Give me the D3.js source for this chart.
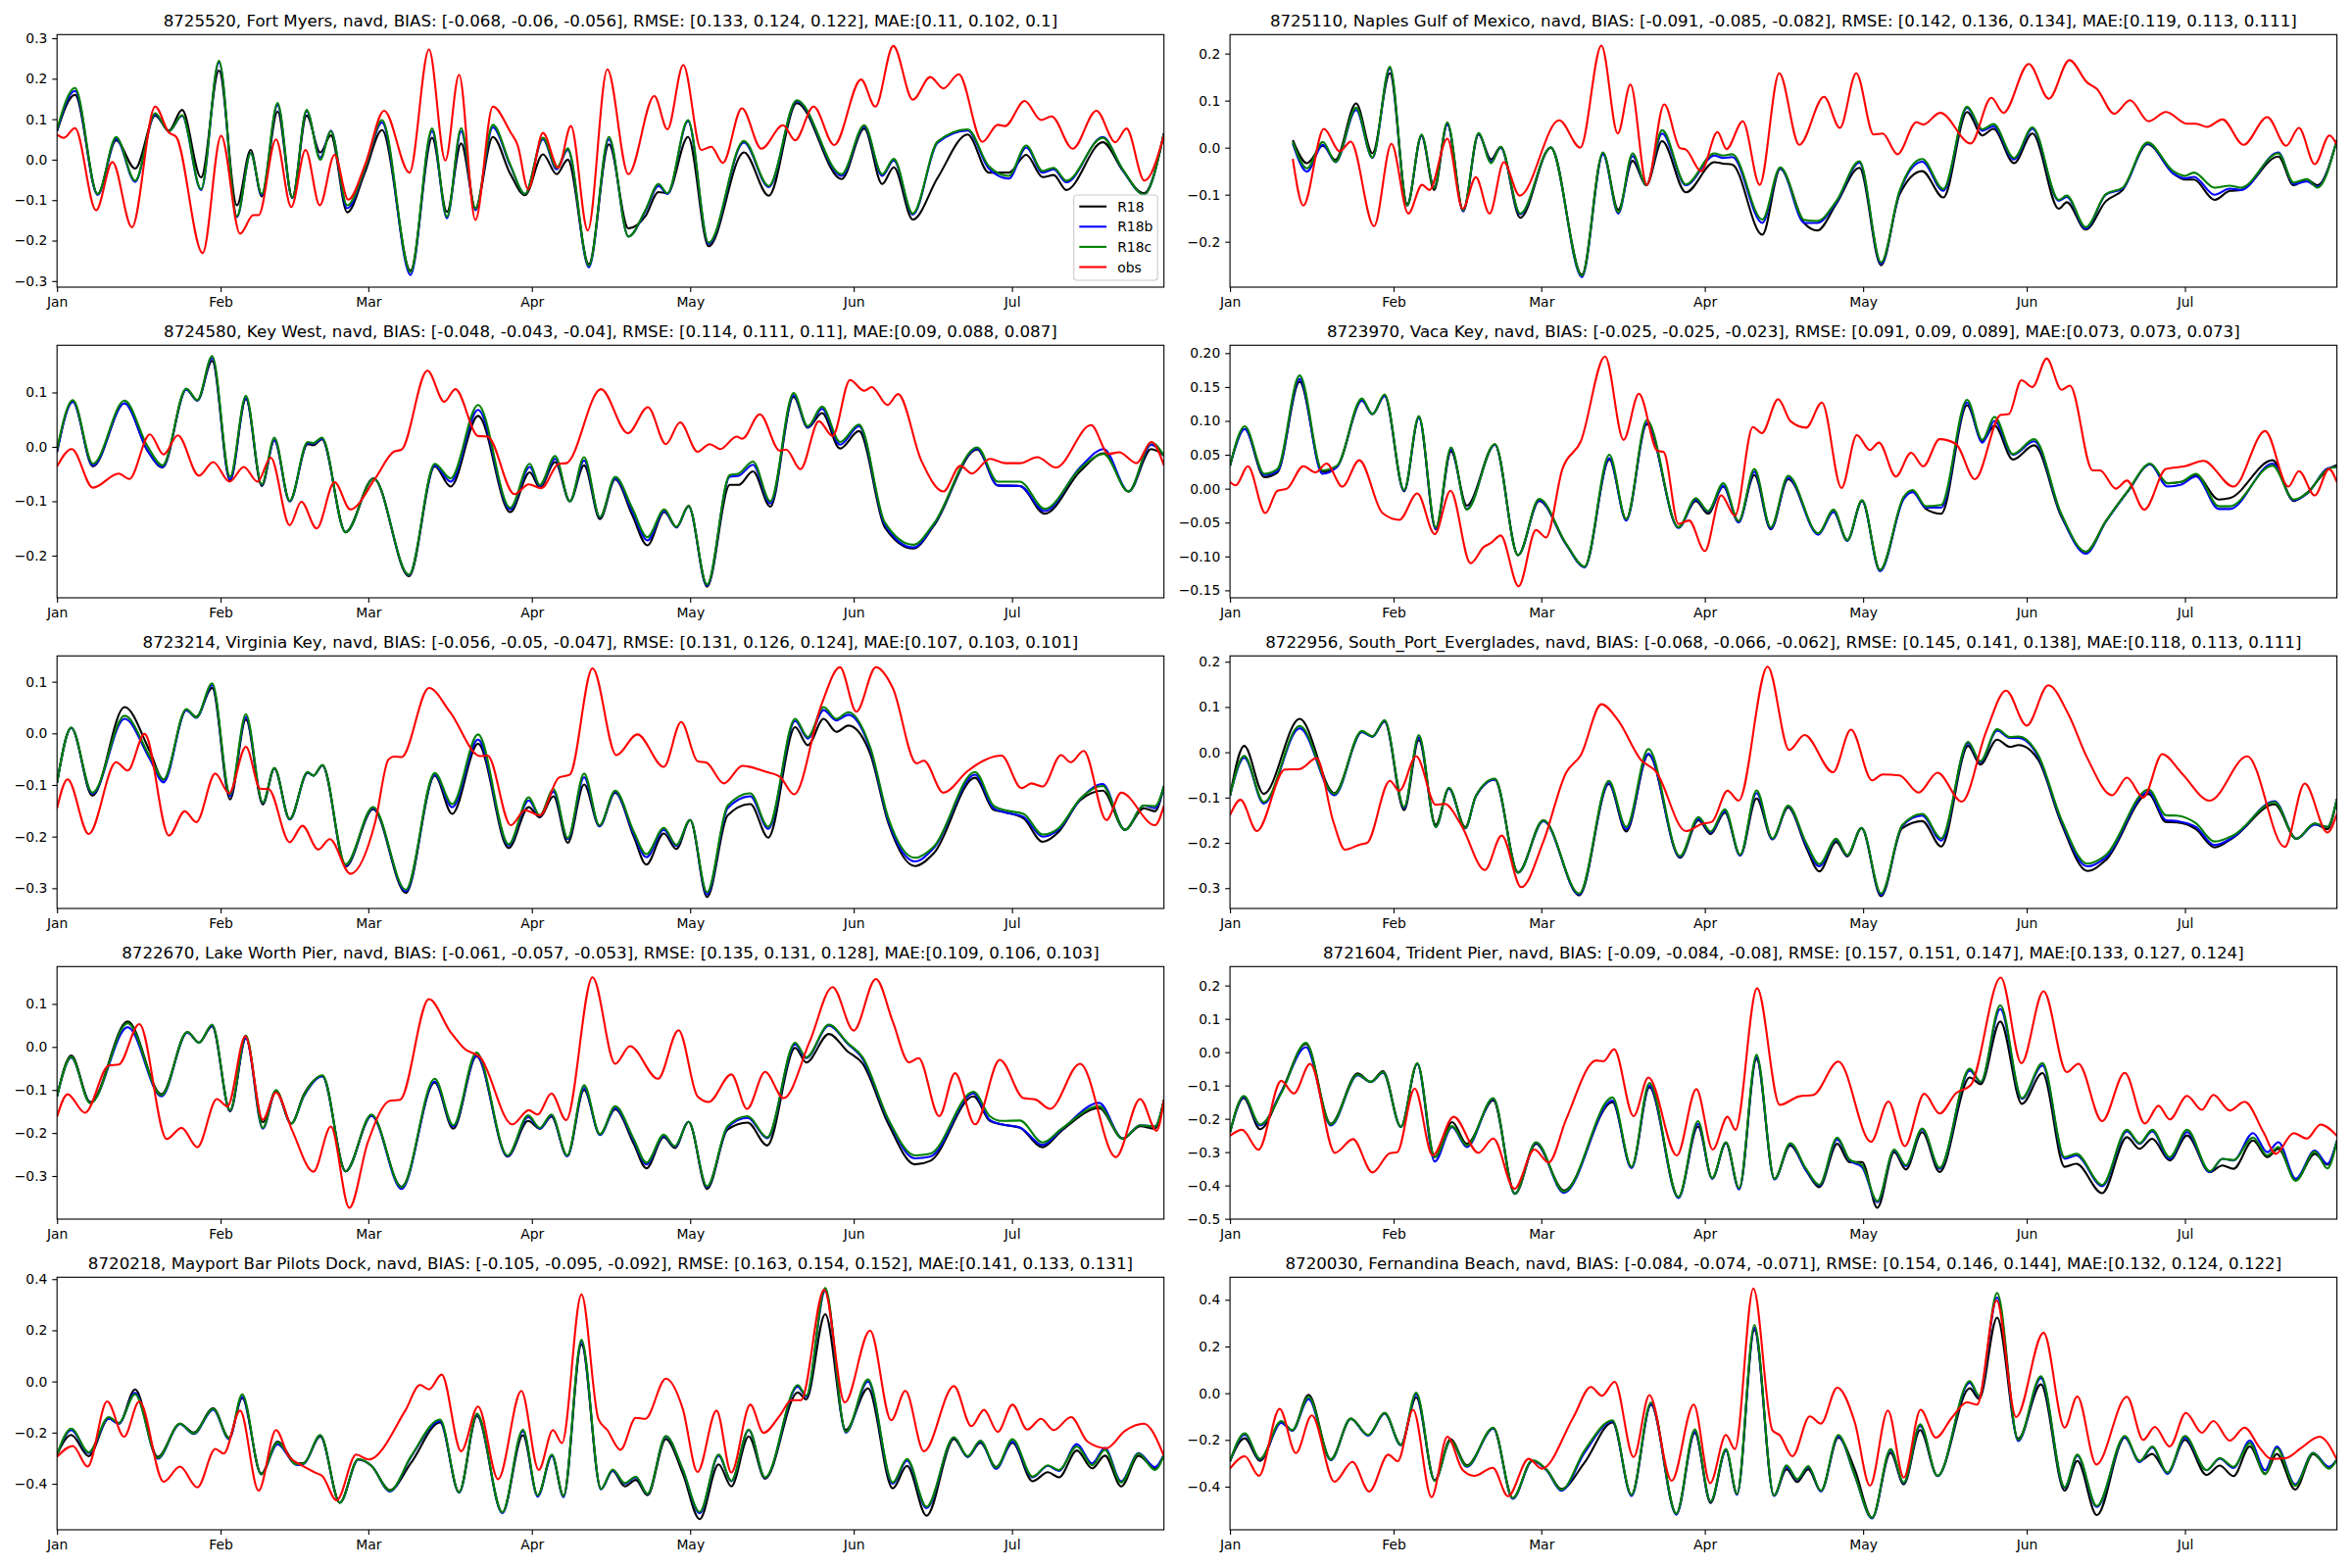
<!DOCTYPE html>
<html><head><meta charset="utf-8">
<script src="https://cdn.jsdelivr.net/npm/d3@7"></script>
<style>html,body{margin:0;padding:0;background:#fff}</style>
</head><body><div id="chart"></div>
<script>
// ---------------- DATA (day offsets from 2018-01-01, water level in m) ----------------
const monthLabels = ["Jan","Feb","Mar","Apr","May","Jun","Jul"];
const seriesNames = ["R18","R18b","R18c","obs"];
const titles = [
"8725520, Fort Myers, navd, BIAS: [-0.068, -0.06, -0.056], RMSE: [0.133, 0.124, 0.122], MAE:[0.11, 0.102, 0.1]",
"8725110, Naples Gulf of Mexico, navd, BIAS: [-0.091, -0.085, -0.082], RMSE: [0.142, 0.136, 0.134], MAE:[0.119, 0.113, 0.111]",
"8724580, Key West, navd, BIAS: [-0.048, -0.043, -0.04], RMSE: [0.114, 0.111, 0.11], MAE:[0.09, 0.088, 0.087]",
"8723970, Vaca Key, navd, BIAS: [-0.025, -0.025, -0.023], RMSE: [0.091, 0.09, 0.089], MAE:[0.073, 0.073, 0.073]",
"8723214, Virginia Key, navd, BIAS: [-0.056, -0.05, -0.047], RMSE: [0.131, 0.126, 0.124], MAE:[0.107, 0.103, 0.101]",
"8722956, South_Port_Everglades, navd, BIAS: [-0.068, -0.066, -0.062], RMSE: [0.145, 0.141, 0.138], MAE:[0.118, 0.113, 0.111]",
"8722670, Lake Worth Pier, navd, BIAS: [-0.061, -0.057, -0.053], RMSE: [0.135, 0.131, 0.128], MAE:[0.109, 0.106, 0.103]",
"8721604, Trident Pier, navd, BIAS: [-0.09, -0.084, -0.08], RMSE: [0.157, 0.151, 0.147], MAE:[0.133, 0.127, 0.124]",
"8720218, Mayport Bar Pilots Dock, navd, BIAS: [-0.105, -0.095, -0.092], RMSE: [0.163, 0.154, 0.152], MAE:[0.141, 0.133, 0.131]",
"8720030, Fernandina Beach, navd, BIAS: [-0.084, -0.074, -0.071], RMSE: [0.154, 0.146, 0.144], MAE:[0.132, 0.124, 0.122]"
];
const yLimits = [[-0.315,0.309],[-0.2965,0.2403],[-0.2775,0.1868],[-0.161,0.2116],[-0.3392,0.15],
                 [-0.3449,0.2128],[-0.4002,0.1868],[-0.501,0.2569],[-0.5798,0.4074],[-0.5846,0.4965]];
const yTickValues = [
 [-0.3,-0.2,-0.1,0.0,0.1,0.2,0.3],
 [-0.2,-0.1,0.0,0.1,0.2],
 [-0.2,-0.1,0.0,0.1],
 [-0.15,-0.10,-0.05,0.00,0.05,0.10,0.15,0.20],
 [-0.3,-0.2,-0.1,0.0,0.1],
 [-0.3,-0.2,-0.1,0.0,0.1,0.2],
 [-0.3,-0.2,-0.1,0.0,0.1],
 [-0.5,-0.4,-0.3,-0.2,-0.1,0.0,0.1,0.2],
 [-0.4,-0.2,0.0,0.2,0.4],
 [-0.4,-0.2,0.0,0.2,0.4]
];
const yTickFormats = [".1f",".1f",".1f",".2f",".1f",".1f",".1f",".1f",".1f",".1f"];

// 1 Fort Myers
const fm_t = [0,3.4,7.7,11.2,14.8,18.6,21.2,23.7,27.3,30.7,34.1,36.7,38.8,41.8,44.6,47.3,49.9,51.9,55.0,58.4,61.6,67.0,71.1,73.9,76.6,79.3,82.6,85.9,88.7,92.1,94.7,96.8,100.8,104.6,108.3,111.5,114.0,115.7,119.6,123.5,130.2,134.9,140.2,148.7,153.0,156.4,158.6,162.2,166.9,172.6,176.6,180.4,183.7,186.8,188.9,191.3,198.2,202.0,206.0,209.8];
const fm_R18c = [0.075,0.177,-0.085,0.056,-0.052,0.115,0.07,0.11,-0.073,0.244,-0.14,0.016,-0.085,0.14,-0.094,0.123,0.0,0.07,-0.113,-0.02,0.098,-0.278,0.077,-0.141,0.078,-0.121,0.086,-0.012,-0.085,0.054,-0.02,0.028,-0.262,0.056,-0.19,-0.125,-0.06,-0.083,0.098,-0.205,0.046,-0.065,0.147,-0.036,0.085,-0.036,0.002,-0.133,0.045,0.075,-0.016,-0.04,0.035,-0.028,-0.02,-0.052,0.054,-0.024,-0.086,0.065];
const fm_R18b = [0.072,0.17,-0.087,0.052,-0.055,0.112,0.07,0.108,-0.075,0.24,-0.142,0.016,-0.088,0.135,-0.095,0.12,0.005,0.072,-0.12,-0.022,0.092,-0.285,0.07,-0.145,0.07,-0.125,0.08,-0.015,-0.085,0.05,-0.024,0.024,-0.266,0.05,-0.19,-0.128,-0.065,-0.085,0.095,-0.208,0.042,-0.068,0.145,-0.04,0.082,-0.04,-0.002,-0.136,0.042,0.072,-0.022,-0.047,0.03,-0.032,-0.024,-0.056,0.056,-0.026,-0.086,0.065];
const fm_R18 = [0.07,0.16,-0.085,0.048,-0.022,0.109,0.072,0.123,-0.044,0.22,-0.113,0.024,-0.091,0.119,-0.094,0.109,0.018,0.06,-0.13,-0.03,0.073,-0.274,0.054,-0.129,0.04,-0.12,0.056,-0.035,-0.088,0.013,-0.036,0.0,-0.258,0.038,-0.17,-0.14,-0.08,-0.083,0.056,-0.214,0.018,-0.089,0.14,-0.048,0.077,-0.06,-0.019,-0.148,-0.045,0.062,-0.032,-0.032,0.012,-0.043,-0.038,-0.075,0.043,-0.027,-0.083,0.065];
const fm_obsT = [0,1.3,3.4,7.4,10.5,14.2,18.6,21.2,22.6,27.6,31.1,34.7,37.2,38.2,41.5,44.4,47.1,49.8,52.6,55.2,58.4,62.0,66.8,70.5,73.6,76.2,79.3,82.6,85.9,87.3,89.3,92.1,95.0,97.4,100.6,104.3,108.3,113.2,115.7,118.7,122.1,124.0,126.2,129.8,133.5,137.6,139.9,143.4,147.3,152.4,155.1,158.5,162.2,165.5,168.0,170.9,175.4,178.3,179.7,183.4,186.5,188.5,192.5,197.0,200.6,202.7,206.1,209.8];
const fm_obs = [0.062,0.054,0.078,-0.125,-0.006,-0.167,0.131,0.067,0.056,-0.231,0.059,-0.183,-0.137,-0.137,0.05,-0.117,0.024,-0.113,0.012,-0.099,-0.012,0.121,-0.032,0.272,-0.002,0.21,-0.149,0.131,0.069,0.036,-0.073,0.066,-0.02,0.083,-0.175,0.223,-0.036,0.157,0.075,0.234,0.024,0.032,-0.008,0.127,0.027,0.085,0.048,0.131,0.036,0.198,0.131,0.281,0.148,0.204,0.176,0.211,0.044,0.086,0.083,0.145,0.098,0.107,0.027,0.121,0.043,0.077,-0.052,0.06];

// 2 Naples
const np_t = [11.9,14.6,17.6,20.0,23.9,27.0,30.3,33.6,36.3,38.7,41.2,44.2,47.1,49.5,51.3,55.0,60.8,66.7,70.7,73.6,76.3,78.9,81.9,86.4,91.8,93.5,95.2,100.9,104.3,108.9,111.3,114.9,119.3,123.4,126.9,131.2,135.2,139.7,142.6,144.7,148.6,152.1,157.1,158.6,162.2,166.0,169.2,173.9,178.8,181.0,182.7,186.6,189.5,191.6,198.7,201.6,204.1,206.1,209.8];
const np_R18c = [0.012,-0.044,0.012,-0.03,0.085,-0.021,0.172,-0.123,0.028,-0.085,0.054,-0.133,0.031,-0.033,0.002,-0.14,0.0,-0.272,-0.01,-0.137,-0.012,-0.08,0.037,-0.078,-0.012,-0.017,-0.014,-0.153,-0.042,-0.154,-0.156,-0.114,-0.029,-0.244,-0.092,-0.024,-0.088,0.087,0.039,0.05,-0.022,0.043,-0.111,-0.102,-0.169,-0.099,-0.085,0.011,-0.05,-0.06,-0.053,-0.085,-0.081,-0.085,-0.012,-0.074,-0.067,-0.085,0.016];
const np_R18b = [0.009,-0.051,0.006,-0.031,0.08,-0.022,0.168,-0.123,0.026,-0.083,0.05,-0.135,0.029,-0.03,0.0,-0.142,0.0,-0.275,-0.014,-0.14,-0.018,-0.08,0.03,-0.08,-0.017,-0.022,-0.02,-0.16,-0.044,-0.16,-0.16,-0.117,-0.032,-0.247,-0.095,-0.03,-0.092,0.085,0.036,0.045,-0.025,0.04,-0.113,-0.105,-0.172,-0.1,-0.087,0.009,-0.055,-0.065,-0.062,-0.1,-0.087,-0.09,-0.01,-0.077,-0.072,-0.083,0.016];
const np_R18 = [0.016,-0.033,0.004,-0.026,0.094,-0.012,0.158,-0.12,0.025,-0.09,0.05,-0.135,0.028,-0.025,0.002,-0.149,0.0,-0.27,-0.012,-0.132,-0.028,-0.08,0.014,-0.095,-0.031,-0.034,-0.036,-0.185,-0.045,-0.161,-0.176,-0.12,-0.043,-0.25,-0.1,-0.05,-0.106,0.076,0.026,0.04,-0.033,0.03,-0.13,-0.116,-0.174,-0.114,-0.09,0.007,-0.055,-0.068,-0.068,-0.111,-0.092,-0.09,-0.019,-0.08,-0.068,-0.08,0.016];
const np_obsT = [11.9,13.9,17.8,20.8,22.9,27.3,30.6,33.8,36.4,37.8,41.2,44.1,46.6,49.2,51.9,54.9,62.4,66.4,70.4,73.5,75.9,79.0,82.3,85.3,86.4,89.3,92.4,94.1,97.2,100.4,104.1,107.9,112.6,115.6,118.7,122.0,123.7,126.5,130.1,131.4,134.6,140.4,144.3,146.6,151.4,155.2,159.1,162.5,164.3,167.6,170.6,174.1,177.4,181.4,183.1,185.2,188.1,192.1,196.6,200.2,202.6,205.6,208.4,209.8];
const np_obs = [-0.024,-0.123,0.04,-0.008,0.013,-0.167,0.008,-0.14,-0.079,-0.09,0.019,-0.13,-0.063,-0.14,-0.031,-0.102,0.058,0.0,0.217,0.03,0.134,-0.079,0.092,-0.001,-0.004,-0.05,0.033,-0.003,0.056,-0.079,0.158,0.006,0.108,0.042,0.158,0.028,0.03,-0.014,0.054,0.049,0.074,0.009,0.106,0.074,0.178,0.104,0.186,0.138,0.125,0.072,0.101,0.056,0.076,0.051,0.051,0.044,0.06,0.006,0.065,0.004,0.042,-0.035,0.026,0.006];

// 3 Key West
const kw_t = [0,3.0,6.8,12.8,17.1,20.0,24.5,26.6,29.4,32.8,35.8,38.8,41.2,44.1,47.5,48.6,50.2,54.7,60.0,66.7,71.6,74.6,79.8,85.9,89.6,91.5,94.4,97.2,99.9,102.9,105.8,109.0,111.9,115.1,117.4,119.7,123.2,127.5,129.2,131.9,135.2,139.6,142.3,145.0,148.4,152.0,156.9,162.3,166.2,174.4,178.3,182.5,187.2,193.9,198.4,203.1,207.4,209.8];
const kw_R18c = [-0.004,0.086,-0.031,0.085,0.002,-0.034,0.107,0.086,0.167,-0.055,0.094,-0.069,0.017,-0.099,0.009,0.007,0.017,-0.157,-0.058,-0.235,-0.031,-0.058,0.077,-0.112,-0.031,-0.07,-0.017,-0.1,-0.019,-0.129,-0.055,-0.112,-0.166,-0.115,-0.147,-0.109,-0.253,-0.052,-0.049,-0.027,-0.1,0.099,0.038,0.074,0.009,0.041,-0.139,-0.18,-0.141,-0.001,-0.064,-0.064,-0.114,-0.04,-0.013,-0.082,0.008,-0.016];
const kw_R18b = [-0.008,0.083,-0.034,0.08,-0.006,-0.037,0.105,0.085,0.163,-0.06,0.09,-0.07,0.012,-0.1,0.007,0.006,0.015,-0.157,-0.058,-0.236,-0.034,-0.064,0.068,-0.115,-0.037,-0.072,-0.022,-0.1,-0.025,-0.13,-0.058,-0.118,-0.172,-0.118,-0.148,-0.11,-0.255,-0.055,-0.053,-0.033,-0.104,0.095,0.036,0.07,0.004,0.038,-0.143,-0.185,-0.143,-0.003,-0.071,-0.072,-0.118,-0.038,-0.004,-0.082,0.004,-0.016];
const kw_R18 = [-0.01,0.083,-0.036,0.08,-0.006,-0.038,0.106,0.085,0.158,-0.062,0.088,-0.072,0.012,-0.1,0.005,0.003,0.014,-0.157,-0.058,-0.238,-0.036,-0.073,0.057,-0.12,-0.047,-0.075,-0.028,-0.1,-0.034,-0.133,-0.06,-0.125,-0.181,-0.12,-0.148,-0.108,-0.257,-0.07,-0.07,-0.045,-0.11,0.092,0.035,0.062,-0.003,0.029,-0.148,-0.187,-0.145,-0.005,-0.071,-0.072,-0.123,-0.045,-0.012,-0.082,-0.004,-0.016];
const kw_obsT = [0,2.8,6.8,11.7,13.7,17.6,20.2,22.9,26.9,29.6,32.7,35.4,38.0,40.5,44.1,46.3,49.2,52.6,55.6,60.3,63.8,65.3,70.2,73.4,75.5,79.8,81.6,86.7,89.4,91.8,95.1,96.5,103.1,108.2,112.0,115.4,118.1,121.4,123.7,125.7,128.8,129.9,133.2,137.0,138.2,140.9,144.4,147.0,150.3,153.0,154.4,157.4,159.4,163.8,168.0,171.2,173.4,176.8,179.7,182.5,185.8,189.3,196.0,199.3,201.3,204.6,207.4,209.8];
const kw_obs = [-0.036,-0.004,-0.075,-0.049,-0.059,0.023,-0.014,0.021,-0.053,-0.028,-0.064,-0.037,-0.064,-0.02,-0.144,-0.101,-0.15,-0.065,-0.115,-0.058,-0.009,-0.005,0.14,0.083,0.106,0.02,0.019,-0.087,-0.069,-0.076,-0.031,-0.03,0.106,0.025,0.073,0.005,0.045,-0.009,0.005,-0.004,0.019,0.015,0.06,-0.007,-0.005,-0.041,0.047,0.02,0.123,0.103,0.11,0.077,0.097,-0.025,-0.082,-0.035,-0.049,-0.022,-0.03,-0.03,-0.019,-0.038,0.04,-0.013,-0.01,-0.03,0.009,-0.034];

// 4 Vaca Key
const vk_t = [0,2.8,6.5,9.0,13.2,17.5,20.3,25.0,27.0,29.3,33.0,35.8,39.0,41.9,44.9,50.2,54.6,58.6,63.7,67.2,71.9,75.1,79.0,85.0,88.3,90.6,93.5,96.4,99.4,102.5,105.8,111.5,114.4,117.0,119.8,123.2,127.7,129.4,131.9,134.8,139.7,142.6,144.9,148.4,152.4,157.5,162.2,166.0,170.3,174.4,177.7,180.3,183.1,187.4,189.5,197.6,201.6,204.4,208.0,209.8];
const vk_R18c = [0.034,0.092,0.022,0.029,0.167,0.027,0.034,0.133,0.11,0.139,-0.002,0.107,-0.057,0.061,-0.031,0.066,-0.098,-0.015,-0.081,-0.115,0.05,-0.045,0.101,-0.057,-0.014,-0.033,0.008,-0.048,0.029,-0.057,0.019,-0.066,-0.031,-0.076,-0.017,-0.12,-0.012,-0.002,-0.026,-0.024,0.131,0.072,0.106,0.051,0.073,-0.036,-0.093,-0.048,-0.002,0.037,0.008,0.01,0.022,-0.026,-0.026,0.034,-0.016,-0.005,0.029,0.032];
const vk_R18b = [0.034,0.088,0.02,0.026,0.162,0.022,0.032,0.13,0.11,0.137,-0.003,0.105,-0.059,0.058,-0.03,0.065,-0.098,-0.017,-0.082,-0.116,0.045,-0.047,0.097,-0.058,-0.016,-0.034,0.004,-0.05,0.025,-0.059,0.016,-0.068,-0.034,-0.077,-0.018,-0.122,-0.015,-0.005,-0.028,-0.028,0.127,0.068,0.1,0.05,0.07,-0.038,-0.096,-0.049,-0.003,0.036,0.003,0.006,0.018,-0.03,-0.03,0.037,-0.017,-0.006,0.03,0.032];
const vk_R18 = [0.034,0.088,0.017,0.024,0.158,0.025,0.033,0.13,0.11,0.137,-0.004,0.105,-0.06,0.055,-0.025,0.065,-0.098,-0.018,-0.082,-0.115,0.043,-0.045,0.095,-0.057,-0.018,-0.037,0.003,-0.048,0.02,-0.06,0.014,-0.066,-0.034,-0.076,-0.018,-0.12,-0.014,-0.004,-0.03,-0.037,0.123,0.07,0.093,0.043,0.064,-0.04,-0.093,-0.048,-0.002,0.036,0.008,0.01,0.02,-0.016,-0.014,0.042,-0.018,-0.004,0.028,0.035];
const vk_obsT = [0,1.1,3.4,6.7,9.0,10.8,13.9,16.2,18.3,21.3,24.5,28.9,32.1,35.5,38.8,41.8,45.6,48.1,49.5,51.3,54.7,58.0,59.9,63.0,66.5,71.1,74.6,77.5,81.0,82.2,85.0,87.0,90.0,93.1,95.7,99.1,100.8,103.9,106.3,109.2,112.2,115.9,118.8,121.3,123.0,126.2,129.1,131.4,134.5,137.6,141.2,146.1,147.6,150.0,152.1,154.8,157.6,159.2,163.5,164.9,167.9,170.0,173.3,177.4,181.0,184.5,190.2,196.2,200.6,202.6,205.6,208.3,209.8];
const vk_obs = [0.01,0.005,0.033,-0.036,-0.003,0.0,0.033,0.024,0.037,0.003,0.042,-0.036,-0.046,-0.007,-0.067,-0.003,-0.11,-0.086,-0.08,-0.069,-0.144,-0.061,-0.072,0.029,0.07,0.195,0.072,0.14,0.056,0.054,-0.052,-0.047,-0.092,-0.01,-0.04,0.091,0.082,0.132,0.099,0.09,0.127,0.001,0.079,0.057,0.068,0.018,0.053,0.033,0.073,0.066,0.014,0.109,0.11,0.16,0.15,0.192,0.146,0.152,0.027,0.027,0.0,0.012,-0.031,0.029,0.033,0.041,0.003,0.085,0.003,0.026,-0.01,0.029,0.01];

// 5 Virginia Key
const vg_t = [0,2.7,6.7,12.8,17.6,20.2,24.5,26.4,29.4,32.8,35.8,39.0,41.2,44.1,47.5,48.6,50.3,54.7,59.9,66.1,71.6,74.9,79.8,85.6,89.4,91.5,94.1,96.8,99.9,102.8,105.8,109.3,111.7,115.0,117.4,120.0,123.2,127.1,131.4,134.8,139.9,142.3,145.3,147.7,150.0,154.1,157.6,162.6,166.2,174.0,177.5,179.7,183.2,186.8,189.9,193.9,198.2,202.4,206.0,208.1,209.8];
const vg_R18c = [-0.096,0.011,-0.115,0.034,-0.045,-0.089,0.047,0.031,0.097,-0.118,0.037,-0.134,-0.067,-0.166,-0.075,-0.082,-0.061,-0.254,-0.143,-0.303,-0.077,-0.137,-0.002,-0.215,-0.124,-0.159,-0.108,-0.203,-0.078,-0.178,-0.111,-0.19,-0.234,-0.183,-0.216,-0.168,-0.308,-0.14,-0.116,-0.181,0.028,-0.007,0.051,0.028,0.041,-0.026,-0.165,-0.241,-0.219,-0.075,-0.14,-0.149,-0.156,-0.196,-0.183,-0.127,-0.102,-0.187,-0.14,-0.141,-0.102];
const vg_R18b = [-0.096,0.01,-0.117,0.028,-0.05,-0.095,0.045,0.03,0.093,-0.122,0.032,-0.135,-0.068,-0.167,-0.076,-0.082,-0.062,-0.256,-0.145,-0.306,-0.08,-0.143,-0.012,-0.217,-0.13,-0.16,-0.113,-0.205,-0.085,-0.18,-0.113,-0.195,-0.24,-0.187,-0.218,-0.168,-0.312,-0.145,-0.122,-0.185,0.024,-0.01,0.045,0.025,0.036,-0.03,-0.17,-0.248,-0.222,-0.08,-0.145,-0.153,-0.162,-0.2,-0.186,-0.128,-0.098,-0.187,-0.14,-0.145,-0.102];
const vg_R18 = [-0.096,0.011,-0.121,0.051,-0.035,-0.09,0.045,0.032,0.088,-0.128,0.027,-0.138,-0.068,-0.166,-0.076,-0.082,-0.062,-0.258,-0.147,-0.309,-0.082,-0.156,-0.02,-0.222,-0.143,-0.163,-0.122,-0.212,-0.099,-0.18,-0.115,-0.2,-0.254,-0.194,-0.224,-0.168,-0.317,-0.159,-0.137,-0.202,0.012,-0.023,0.028,0.003,0.015,-0.039,-0.175,-0.257,-0.232,-0.086,-0.148,-0.153,-0.165,-0.21,-0.19,-0.13,-0.111,-0.187,-0.145,-0.151,-0.102];
const vg_obsT = [0,2.0,6.0,11.2,13.4,16.6,21.2,24.2,26.4,30.0,32.6,35.8,38.5,40.1,44.1,46.5,49.5,51.7,55.6,60.3,62.8,63.8,65.3,70.5,74.5,80.2,81.6,86.0,88.7,91.5,95.1,97.2,101.5,106.0,110.0,115.0,118.3,121.4,123.1,126.4,129.9,134.2,137.0,139.7,144.9,148.4,151.5,155.2,158.4,162.9,164.3,168.0,172.6,175.4,179.0,182.8,184.7,186.8,190.3,192.1,194.6,198.9,201.7,208.1,209.8];
const vg_obs = [-0.145,-0.089,-0.195,-0.056,-0.072,-0.001,-0.198,-0.151,-0.172,-0.078,-0.116,-0.026,-0.107,-0.108,-0.211,-0.179,-0.225,-0.205,-0.272,-0.172,-0.051,-0.045,-0.046,0.088,0.041,-0.044,-0.043,-0.178,-0.149,-0.159,-0.086,-0.08,0.126,-0.042,-0.002,-0.065,0.022,-0.054,-0.057,-0.097,-0.063,-0.074,-0.084,-0.118,0.056,0.128,0.042,0.128,0.088,-0.058,-0.053,-0.115,-0.073,-0.054,-0.043,-0.106,-0.097,-0.103,-0.042,-0.056,-0.034,-0.168,-0.115,-0.178,-0.14];

// 6 South Port Everglades
const pe_t = [0,2.7,6.4,13.2,19.8,25.0,27.0,29.3,33.0,35.8,39.0,41.5,44.6,46.6,50.2,54.6,59.4,66.2,71.8,75.1,79.3,85.3,88.8,91.1,93.8,96.7,99.8,102.8,105.8,109.2,111.7,114.9,117.0,119.7,123.4,127.4,131.2,134.8,139.9,142.2,145.4,147.8,149.5,153.2,157.5,162.5,166.0,174.1,177.4,179.5,183.1,186.6,190.2,198.0,202.1,205.6,208.0,209.8];
const pe_R18c = [-0.096,-0.008,-0.11,0.058,-0.092,0.047,0.035,0.071,-0.121,0.038,-0.165,-0.078,-0.167,-0.096,-0.058,-0.266,-0.15,-0.312,-0.063,-0.165,0.007,-0.229,-0.143,-0.175,-0.126,-0.226,-0.084,-0.19,-0.118,-0.2,-0.247,-0.191,-0.227,-0.167,-0.312,-0.161,-0.136,-0.19,0.023,-0.02,0.051,0.034,0.035,-0.006,-0.146,-0.246,-0.227,-0.082,-0.139,-0.14,-0.157,-0.197,-0.183,-0.11,-0.191,-0.157,-0.165,-0.103];
const pe_R18b = [-0.096,-0.012,-0.113,0.053,-0.095,0.045,0.034,0.069,-0.123,0.033,-0.165,-0.08,-0.168,-0.097,-0.06,-0.266,-0.152,-0.314,-0.068,-0.17,-0.003,-0.231,-0.147,-0.177,-0.13,-0.228,-0.09,-0.192,-0.12,-0.205,-0.252,-0.193,-0.228,-0.167,-0.315,-0.163,-0.14,-0.195,0.02,-0.022,0.048,0.032,0.032,-0.01,-0.15,-0.252,-0.232,-0.087,-0.15,-0.152,-0.165,-0.205,-0.187,-0.108,-0.191,-0.16,-0.165,-0.103];
const pe_R18 = [-0.096,0.014,-0.092,0.074,-0.09,0.045,0.035,0.068,-0.128,0.027,-0.16,-0.08,-0.165,-0.097,-0.06,-0.265,-0.15,-0.316,-0.07,-0.175,-0.005,-0.233,-0.15,-0.181,-0.133,-0.228,-0.102,-0.192,-0.122,-0.21,-0.263,-0.198,-0.23,-0.168,-0.318,-0.168,-0.152,-0.208,0.014,-0.027,0.028,0.012,0.016,-0.017,-0.155,-0.262,-0.238,-0.092,-0.154,-0.155,-0.17,-0.21,-0.188,-0.115,-0.191,-0.158,-0.17,-0.103];
const pe_obsT = [0,2.0,5.1,10.4,13.2,16.4,19.6,21.8,24.6,26.0,30.3,32.1,35.3,39.0,40.7,43.8,48.3,51.5,55.2,59.4,63.7,66.5,70.4,73.6,77.9,80.7,86.4,89.3,91.4,94.3,96.4,101.9,106.0,108.9,114.3,117.7,121.7,123.7,126.9,130.5,134.1,138.7,143.3,147.1,151.0,155.1,158.9,162.5,167.2,170.0,173.1,176.7,180.3,185.7,192.8,199.9,203.7,208.0,209.8];
const pe_obs = [-0.139,-0.105,-0.174,-0.038,-0.037,-0.013,-0.154,-0.215,-0.204,-0.2,-0.063,-0.085,-0.009,-0.116,-0.114,-0.16,-0.26,-0.184,-0.298,-0.197,-0.045,-0.006,0.106,0.07,-0.017,-0.042,-0.174,-0.159,-0.153,-0.085,-0.107,0.189,0.005,0.038,-0.044,0.05,-0.062,-0.049,-0.051,-0.089,-0.045,-0.109,0.045,0.136,0.059,0.148,0.084,-0.013,-0.095,-0.056,-0.1,-0.004,-0.045,-0.107,-0.009,-0.209,-0.069,-0.177,-0.136];

// 7 Lake Worth Pier
const lw_t = [0,2.7,6.3,13.4,19.8,24.7,26.9,29.4,32.8,35.8,39.0,41.5,44.4,46.8,50.3,54.7,59.6,65.3,71.6,75.1,79.5,85.4,89.3,91.5,93.7,96.7,99.9,102.9,105.8,109.3,111.7,115.0,117.1,119.7,123.2,127.1,130.9,134.6,139.9,142.0,146.3,149.8,152.7,157.6,162.6,165.5,173.7,176.8,179.0,182.5,186.8,190.3,197.5,202.0,205.3,208.1,209.8];
const lw_R18c = [-0.115,-0.023,-0.131,0.055,-0.112,0.035,0.01,0.052,-0.147,0.027,-0.188,-0.1,-0.178,-0.112,-0.066,-0.289,-0.157,-0.326,-0.074,-0.182,-0.013,-0.252,-0.159,-0.188,-0.157,-0.252,-0.089,-0.203,-0.138,-0.214,-0.269,-0.204,-0.231,-0.174,-0.324,-0.184,-0.161,-0.21,0.01,-0.024,0.052,0.01,-0.024,-0.169,-0.252,-0.248,-0.104,-0.161,-0.172,-0.171,-0.222,-0.191,-0.138,-0.213,-0.182,-0.185,-0.123];
const lw_R18b = [-0.115,-0.025,-0.13,0.046,-0.115,0.033,0.01,0.05,-0.148,0.02,-0.19,-0.103,-0.178,-0.114,-0.068,-0.289,-0.16,-0.33,-0.08,-0.185,-0.02,-0.254,-0.163,-0.19,-0.16,-0.254,-0.095,-0.205,-0.142,-0.218,-0.273,-0.207,-0.232,-0.174,-0.326,-0.187,-0.165,-0.212,0.006,-0.026,0.05,0.008,-0.028,-0.172,-0.259,-0.255,-0.108,-0.17,-0.18,-0.187,-0.228,-0.193,-0.13,-0.213,-0.182,-0.185,-0.123];
const lw_R18 = [-0.115,-0.02,-0.128,0.059,-0.11,0.035,0.01,0.048,-0.15,0.02,-0.175,-0.102,-0.178,-0.11,-0.068,-0.289,-0.16,-0.325,-0.083,-0.19,-0.022,-0.255,-0.172,-0.19,-0.162,-0.254,-0.1,-0.203,-0.145,-0.225,-0.282,-0.21,-0.235,-0.174,-0.33,-0.192,-0.176,-0.229,-0.002,-0.036,0.03,-0.01,-0.039,-0.18,-0.273,-0.265,-0.115,-0.172,-0.18,-0.188,-0.233,-0.196,-0.142,-0.213,-0.184,-0.19,-0.123];
const lw_obsT = [0,2.0,5.3,9.8,11.7,15.6,20.8,23.6,26.6,30.3,32.3,35.7,39.0,41.5,44.6,48.6,51.9,55.4,58.9,63.1,65.0,70.5,74.5,77.3,80.2,86.3,89.4,91.1,93.7,96.5,101.5,105.8,108.6,113.9,117.8,121.4,123.5,127.8,130.8,134.2,137.7,142.7,147.0,151.0,155.2,158.4,161.5,163.3,167.2,170.2,174.0,178.7,183.2,185.4,188.2,193.9,200.7,205.3,208.4,209.8];
const lw_obs = [-0.162,-0.11,-0.153,-0.043,-0.041,0.053,-0.214,-0.188,-0.233,-0.121,-0.138,0.025,-0.169,-0.106,-0.195,-0.29,-0.185,-0.374,-0.222,-0.125,-0.123,0.111,0.036,-0.005,-0.024,-0.18,-0.147,-0.157,-0.108,-0.17,0.162,-0.039,0.002,-0.074,0.039,-0.115,-0.128,-0.064,-0.144,-0.058,-0.119,0.014,0.139,0.038,0.158,0.059,-0.036,-0.026,-0.161,-0.061,-0.18,-0.03,-0.119,-0.122,-0.144,-0.039,-0.256,-0.121,-0.195,-0.123];

// 8 Trident Pier
const tp_t = [0,2.6,5.7,9.7,14.4,19.1,24.2,26.7,29.0,32.4,35.5,38.8,42.1,44.9,49.9,54.0,58.0,63.3,72.5,76.1,79.5,85.0,88.7,91.4,94.0,96.5,99.8,103.2,106.2,109.2,111.7,115.1,117.4,119.8,122.7,125.9,128.1,131.2,134.5,140.2,142.3,146.0,150.1,154.0,158.2,160.4,165.3,170.0,172.4,174.8,178.1,181.4,185.7,188.1,190.2,193.9,196.6,198.7,202.0,205.6,208.0,209.8];
const tp_R18c = [-0.241,-0.131,-0.217,-0.124,0.028,-0.217,-0.067,-0.089,-0.06,-0.224,-0.033,-0.315,-0.222,-0.28,-0.138,-0.425,-0.27,-0.418,-0.136,-0.344,-0.092,-0.435,-0.207,-0.378,-0.27,-0.408,-0.008,-0.38,-0.273,-0.35,-0.398,-0.256,-0.322,-0.339,-0.447,-0.292,-0.339,-0.229,-0.347,-0.05,-0.089,0.141,-0.138,-0.033,-0.315,-0.305,-0.398,-0.233,-0.273,-0.233,-0.315,-0.233,-0.357,-0.32,-0.324,-0.256,-0.31,-0.285,-0.386,-0.298,-0.349,-0.266];
const tp_R18b = [-0.241,-0.135,-0.22,-0.12,0.015,-0.22,-0.069,-0.09,-0.062,-0.225,-0.035,-0.328,-0.225,-0.285,-0.14,-0.425,-0.272,-0.422,-0.145,-0.348,-0.1,-0.438,-0.215,-0.38,-0.272,-0.412,-0.015,-0.382,-0.276,-0.355,-0.4,-0.262,-0.325,-0.345,-0.45,-0.295,-0.342,-0.232,-0.35,-0.055,-0.09,0.13,-0.14,-0.04,-0.32,-0.31,-0.402,-0.238,-0.275,-0.238,-0.32,-0.24,-0.36,-0.32,-0.325,-0.243,-0.3,-0.27,-0.38,-0.295,-0.335,-0.266];
const tp_R18 = [-0.241,-0.138,-0.231,-0.12,0.025,-0.215,-0.064,-0.089,-0.057,-0.224,-0.035,-0.315,-0.21,-0.275,-0.145,-0.425,-0.275,-0.415,-0.15,-0.346,-0.105,-0.435,-0.223,-0.378,-0.273,-0.41,-0.021,-0.38,-0.28,-0.355,-0.405,-0.275,-0.33,-0.33,-0.467,-0.3,-0.352,-0.24,-0.36,-0.076,-0.096,0.092,-0.155,-0.063,-0.344,-0.335,-0.423,-0.255,-0.29,-0.26,-0.325,-0.25,-0.36,-0.34,-0.35,-0.265,-0.315,-0.29,-0.384,-0.305,-0.338,-0.266];
const tp_obsT = [0,2.3,5.4,9.7,12.1,15.2,19.9,23.3,27.0,30.3,31.7,35.0,38.4,42.4,47.1,49.9,53.9,57.7,60.4,63.7,69.4,70.8,72.8,76.5,79.3,84.7,88.4,91.5,94.3,95.8,99.9,104.2,107.8,110.6,115.3,121.5,124.8,127.9,131.6,134.5,137.6,140.4,146.1,150.0,154.2,158.6,160.8,165.3,169.6,173.4,176.0,178.1,181.4,184.2,186.4,189.5,192.3,195.9,198.2,201.6,204.1,206.7,209.8];
const tp_obs = [-0.251,-0.233,-0.293,-0.086,-0.124,-0.035,-0.302,-0.261,-0.361,-0.303,-0.3,-0.109,-0.31,-0.194,-0.302,-0.259,-0.41,-0.292,-0.331,-0.202,-0.025,-0.027,0.009,-0.192,-0.076,-0.31,-0.111,-0.292,-0.194,-0.233,0.192,-0.158,-0.133,-0.128,-0.028,-0.269,-0.148,-0.282,-0.125,-0.184,-0.123,-0.099,0.224,-0.033,0.183,-0.06,-0.035,-0.207,-0.062,-0.214,-0.161,-0.202,-0.131,-0.173,-0.128,-0.175,-0.149,-0.241,-0.305,-0.243,-0.259,-0.217,-0.251];

// 9 Mayport Bar Pilots Dock
const mp_t = [0,2.7,6.0,9.8,11.7,14.8,19.1,23.3,25.9,29.6,32.6,35.1,38.7,41.8,45.4,46.8,49.9,53.6,57.1,59.6,63.1,67.1,72.6,76.2,79.6,84.4,88.3,91.1,93.8,96.0,99.4,103.1,105.3,107.6,109.7,111.9,115.4,118.6,121.8,125.4,127.8,131.1,134.2,140.4,142.0,145.6,149.5,153.7,158.4,161.1,164.8,170.0,172.6,175.0,178.0,181.1,184.9,187.8,189.9,193.3,196.2,198.6,201.7,205.0,208.1,209.8];
const mp_R18c = [-0.286,-0.184,-0.277,-0.139,-0.162,-0.05,-0.299,-0.165,-0.203,-0.107,-0.222,-0.05,-0.363,-0.239,-0.324,-0.32,-0.209,-0.474,-0.303,-0.33,-0.427,-0.292,-0.149,-0.433,-0.126,-0.512,-0.188,-0.446,-0.286,-0.448,0.163,-0.42,-0.344,-0.397,-0.372,-0.439,-0.213,-0.344,-0.51,-0.286,-0.388,-0.188,-0.375,-0.014,-0.056,0.365,-0.197,0.008,-0.395,-0.303,-0.49,-0.218,-0.292,-0.231,-0.337,-0.226,-0.372,-0.328,-0.346,-0.254,-0.328,-0.267,-0.395,-0.282,-0.346,-0.286];
const mp_R18b = [-0.286,-0.19,-0.28,-0.145,-0.165,-0.045,-0.302,-0.167,-0.205,-0.11,-0.225,-0.06,-0.363,-0.245,-0.327,-0.322,-0.212,-0.474,-0.305,-0.33,-0.43,-0.295,-0.155,-0.435,-0.13,-0.515,-0.195,-0.45,-0.29,-0.452,0.155,-0.422,-0.348,-0.4,-0.375,-0.44,-0.215,-0.345,-0.515,-0.29,-0.39,-0.19,-0.377,-0.02,-0.06,0.355,-0.2,0.0,-0.4,-0.31,-0.495,-0.22,-0.295,-0.235,-0.342,-0.235,-0.375,-0.33,-0.35,-0.245,-0.32,-0.26,-0.39,-0.28,-0.335,-0.286];
const mp_R18 = [-0.286,-0.209,-0.292,-0.145,-0.165,-0.031,-0.295,-0.165,-0.2,-0.105,-0.22,-0.065,-0.36,-0.235,-0.32,-0.318,-0.215,-0.474,-0.305,-0.33,-0.425,-0.318,-0.16,-0.433,-0.135,-0.512,-0.21,-0.446,-0.29,-0.448,0.144,-0.42,-0.35,-0.41,-0.385,-0.445,-0.225,-0.36,-0.538,-0.324,-0.41,-0.215,-0.38,-0.043,-0.07,0.263,-0.19,-0.027,-0.418,-0.33,-0.525,-0.225,-0.295,-0.24,-0.335,-0.24,-0.39,-0.355,-0.375,-0.27,-0.34,-0.29,-0.41,-0.29,-0.34,-0.286];
const mp_obsT = [0,3.0,5.8,9.5,12.7,15.6,20.2,23.3,26.6,30.0,31.6,34.7,38.2,41.5,43.9,46.1,48.9,50.3,53.0,56.7,59.1,66.0,68.8,70.5,72.9,76.6,79.8,83.6,88.0,91.3,94.0,95.7,99.4,102.6,104.3,106.8,109.7,111.5,115.4,118.6,121.4,125.0,127.8,131.4,133.9,137.0,139.2,141.0,145.4,149.3,154.1,158.1,160.8,164.3,170.0,173.3,175.7,178.3,181.1,183.9,186.5,188.9,192.2,195.3,198.9,202.4,206.0,209.8];
const mp_obs = [-0.295,-0.252,-0.333,-0.078,-0.216,-0.078,-0.392,-0.333,-0.414,-0.264,-0.282,-0.114,-0.427,-0.19,-0.292,-0.325,-0.356,-0.37,-0.465,-0.286,-0.305,-0.114,-0.014,-0.031,0.027,-0.273,-0.098,-0.382,-0.037,-0.346,-0.19,-0.241,0.34,-0.146,-0.19,-0.267,-0.142,-0.146,0.011,-0.107,-0.354,-0.114,-0.356,-0.091,-0.201,-0.133,-0.073,-0.073,0.359,-0.082,0.199,-0.152,-0.037,-0.273,-0.018,-0.175,-0.111,-0.197,-0.091,-0.188,-0.146,-0.19,-0.139,-0.235,-0.261,-0.193,-0.165,-0.292];

// 10 Fernandina Beach
const fb_t = [0,2.8,5.7,9.7,11.8,14.9,19.1,22.9,26.2,29.3,32.4,35.3,38.8,41.8,44.9,49.9,53.6,57.3,60.1,62.8,67.2,72.5,76.1,79.8,84.6,88.1,91.1,94.0,96.1,99.4,103.1,105.5,107.5,109.6,112.0,115.3,118.4,121.7,125.2,127.7,130.8,134.1,140.2,142.0,145.4,149.4,153.7,158.2,160.6,164.3,169.6,172.4,174.8,177.7,181.0,185.1,187.6,190.2,193.3,196.2,198.4,201.9,205.3,208.3,209.8];
const fb_R18c = [-0.291,-0.172,-0.281,-0.119,-0.158,-0.015,-0.284,-0.109,-0.179,-0.084,-0.221,0.003,-0.375,-0.203,-0.312,-0.147,-0.449,-0.287,-0.33,-0.413,-0.245,-0.116,-0.435,-0.039,-0.515,-0.155,-0.463,-0.239,-0.431,0.292,-0.438,-0.309,-0.368,-0.312,-0.417,-0.179,-0.35,-0.533,-0.239,-0.382,-0.133,-0.354,0.052,-0.011,0.429,-0.2,0.073,-0.403,-0.263,-0.483,-0.183,-0.291,-0.228,-0.34,-0.183,-0.329,-0.277,-0.315,-0.214,-0.347,-0.235,-0.396,-0.256,-0.323,-0.284];
const fb_R18b = [-0.291,-0.178,-0.283,-0.127,-0.16,-0.025,-0.287,-0.11,-0.182,-0.087,-0.223,-0.005,-0.375,-0.205,-0.315,-0.15,-0.452,-0.29,-0.333,-0.418,-0.255,-0.12,-0.44,-0.045,-0.52,-0.165,-0.465,-0.245,-0.435,0.28,-0.44,-0.315,-0.37,-0.315,-0.42,-0.185,-0.352,-0.536,-0.245,-0.385,-0.14,-0.355,0.045,-0.015,0.41,-0.205,0.065,-0.405,-0.268,-0.487,-0.188,-0.295,-0.232,-0.345,-0.19,-0.33,-0.28,-0.32,-0.203,-0.33,-0.228,-0.39,-0.255,-0.315,-0.284];
const fb_R18 = [-0.291,-0.193,-0.29,-0.125,-0.16,-0.007,-0.283,-0.109,-0.18,-0.085,-0.22,-0.018,-0.372,-0.197,-0.309,-0.15,-0.449,-0.29,-0.33,-0.41,-0.297,-0.125,-0.435,-0.05,-0.515,-0.17,-0.47,-0.245,-0.431,0.27,-0.438,-0.325,-0.38,-0.325,-0.42,-0.19,-0.325,-0.533,-0.255,-0.39,-0.158,-0.354,0.021,-0.025,0.324,-0.195,0.038,-0.417,-0.29,-0.522,-0.19,-0.29,-0.26,-0.34,-0.2,-0.35,-0.31,-0.355,-0.228,-0.345,-0.26,-0.412,-0.26,-0.32,-0.284];
const fb_obsT = [0,2.8,5.5,9.4,12.5,15.5,19.8,23.2,26.4,30.0,31.8,34.7,38.2,41.2,44.1,46.3,49.8,52.7,56.6,59.1,65.1,68.4,70.5,72.9,76.5,79.5,83.7,87.9,91.0,94.0,95.7,99.2,102.8,104.2,106.6,109.9,112.0,115.1,118.4,121.3,124.7,127.7,130.9,133.8,136.9,139.7,141.6,145.3,149.0,154.2,158.2,160.6,164.2,170.0,173.1,175.3,178.1,181.2,184.2,186.4,189.5,192.3,195.2,197.3,200.2,203.0,206.5,209.8];
const fb_obs = [-0.323,-0.27,-0.354,-0.067,-0.256,-0.095,-0.379,-0.294,-0.421,-0.263,-0.291,-0.071,-0.445,-0.186,-0.329,-0.354,-0.319,-0.441,-0.281,-0.323,-0.102,0.027,-0.011,0.049,-0.273,-0.008,-0.375,-0.049,-0.385,-0.179,-0.239,0.448,-0.158,-0.18,-0.27,-0.099,-0.13,0.024,-0.123,-0.396,-0.074,-0.361,-0.071,-0.19,-0.102,-0.039,-0.049,0.397,-0.102,0.259,-0.147,-0.014,-0.305,-0.015,-0.2,-0.144,-0.228,-0.084,-0.169,-0.119,-0.203,-0.147,-0.235,-0.281,-0.277,-0.235,-0.186,-0.284];

// ---------------- PANEL TABLE (built from the arrays above) ----------------
const stationData = [
 [fm_t,fm_R18,fm_R18b,fm_R18c,fm_obsT,fm_obs],
 [np_t,np_R18,np_R18b,np_R18c,np_obsT,np_obs],
 [kw_t,kw_R18,kw_R18b,kw_R18c,kw_obsT,kw_obs],
 [vk_t,vk_R18,vk_R18b,vk_R18c,vk_obsT,vk_obs],
 [vg_t,vg_R18,vg_R18b,vg_R18c,vg_obsT,vg_obs],
 [pe_t,pe_R18,pe_R18b,pe_R18c,pe_obsT,pe_obs],
 [lw_t,lw_R18,lw_R18b,lw_R18c,lw_obsT,lw_obs],
 [tp_t,tp_R18,tp_R18b,tp_R18c,tp_obsT,tp_obs],
 [mp_t,mp_R18,mp_R18b,mp_R18c,mp_obsT,mp_obs],
 [fb_t,fb_R18,fb_R18b,fb_R18c,fb_obsT,fb_obs]
];

// ---------------- DRAWING ----------------
const W = 2400, H = 1600;
const colX = [58.2, 1255.1], axW = 1129.5;
const rowY = [35.3, 352.3, 669.3, 986.3, 1303.3], axH = 257.7;
const colors = {R18:"#000000", R18b:"#0000ff", R18c:"#008000", obs:"#ff0000"};
const FONT = "'DejaVu Sans', sans-serif";
const t0 = Date.UTC(2018,0,1);
const toDate = d => new Date(t0 + d*864e5);
const xEndDay = 209.8;
const monthTicks = monthLabels.map((m,i)=>new Date(Date.UTC(2018,i,1)));

const svg = d3.select("#chart").append("svg")
  .attr("width",W).attr("height",H)
  .style("font-family",FONT);
svg.append("rect").attr("width",W).attr("height",H).attr("fill","#ffffff");

const zipPts = (t,v) => d3.range(Math.min(t.length,v.length)).map(i=>[t[i],v[i]]);

stationData.forEach((sd,i)=>{
  const col = i%2, row = Math.floor(i/2);
  const g = svg.append("g").attr("transform",`translate(${colX[col]},${rowY[row]})`);
  const x = d3.scaleUtc().domain([toDate(0),toDate(xEndDay)]).range([0,axW]);
  const y = d3.scaleLinear().domain(yLimits[i]).range([axH,0]);

  const clipId = "clip"+i;
  g.append("clipPath").attr("id",clipId).append("rect").attr("width",axW).attr("height",axH);

  const line = d3.line().curve(d3.curveMonotoneX)
    .x(d=>x(toDate(d[0]))).y(d=>y(d[1]));

  const plot = g.append("g").attr("clip-path",`url(#${clipId})`);
  const series = [
    ["R18", zipPts(sd[0],sd[1])],
    ["R18b", zipPts(sd[0],sd[2])],
    ["R18c", zipPts(sd[0],sd[3])],
    ["obs", zipPts(sd[4],sd[5])]
  ];
  series.forEach(([name,pts])=>{
    plot.append("path").datum(pts)
      .attr("d",line).attr("fill","none")
      .attr("stroke",colors[name]).attr("stroke-width",2.08)
      .attr("stroke-linejoin","round").attr("stroke-linecap","butt");
  });

  // axes
  const xAxis = d3.axisBottom(x).tickValues(monthTicks)
    .tickFormat((d,k)=>monthLabels[k]).tickSize(4.9).tickPadding(4.9);
  const yAxis = d3.axisLeft(y).tickValues(yTickValues[i])
    .tickFormat(d3.format(yTickFormats[i])).tickSize(4.9).tickPadding(4.9);
  const gx = g.append("g").attr("transform",`translate(0,${axH})`).call(xAxis);
  const gy = g.append("g").call(yAxis);
  [gx,gy].forEach(a=>{
    a.select(".domain").remove();
    a.selectAll(".tick line").attr("stroke","#000").attr("stroke-width",1.11);
    a.selectAll(".tick text").attr("fill","#000").style("font-size","13.9px").style("font-family",FONT);
  });

  // frame
  g.append("rect").attr("width",axW).attr("height",axH)
    .attr("fill","none").attr("stroke","#000").attr("stroke-width",1.11);

  // title
  g.append("text").attr("x",axW/2).attr("y",-8.3)
    .attr("text-anchor","middle").style("font-size","16.67px").attr("fill","#000")
    .text(titles[i]);

  // legend (first panel only)
  if(i===0){
    const lx = 1095.7-colX[0], ly = 199-rowY[0];
    const lg = g.append("g").attr("transform",`translate(${lx},${ly})`);
    lg.append("rect").attr("width",85.5).attr("height",87).attr("rx",3)
      .attr("fill","#ffffff").attr("fill-opacity",0.8)
      .attr("stroke","#cccccc").attr("stroke-width",1.11);
    seriesNames.forEach((nm,k)=>{
      const cy = 11.7 + k*20.6;
      lg.append("line").attr("x1",5.6).attr("x2",33.4).attr("y1",cy).attr("y2",cy)
        .attr("stroke",colors[nm]).attr("stroke-width",2.08);
      lg.append("text").attr("x",44.5).attr("y",cy).attr("dy","0.36em")
        .style("font-size","13.9px").attr("fill","#000").text(nm);
    });
  }
});
</script>
</body></html>
